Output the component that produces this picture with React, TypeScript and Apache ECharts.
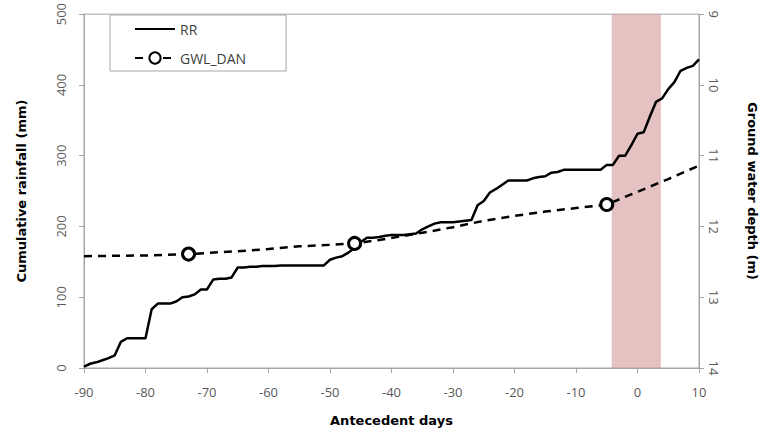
import React, { useEffect, useRef } from "react";
import * as echarts from "echarts";

const rrDays = [
  -90, -89, -88, -87, -86, -85, -84, -83, -82, -81, -80, -79, -78, -77, -76, -75, -74, -73, -72, -71,
  -70, -69, -68, -67, -66, -65, -64, -63, -62, -61, -60, -59, -58, -57, -56, -55, -54, -53, -52, -51,
  -50, -49, -48, -47, -46, -45, -44, -43, -42, -41, -40, -39, -38, -37, -36, -35, -34, -33, -32, -31,
  -30, -29, -28, -27, -26, -25, -24, -23, -22, -21, -20, -19, -18, -17, -16, -15, -14, -13, -12, -11,
  -10, -9, -8, -7, -6, -5, -4, -3, -2, -1, 0, 1, 2, 3, 4, 5, 6, 7, 8, 9, 10,
];
const rrValues = [
  2, 6, 8, 11, 14, 18, 37, 42, 42, 42, 42, 83, 91, 91, 91, 94, 100, 101, 104, 111,
  111, 125, 126, 126, 128, 142, 142, 143, 143, 144, 144, 144, 145, 145, 145, 145, 145, 145, 145, 145,
  153, 156, 158, 163, 170, 178, 184, 184, 185, 187, 188, 188, 188, 189, 190, 196, 200, 204, 206, 206,
  206, 207, 208, 209, 230, 236, 248, 253, 259, 265, 265, 265, 265, 268, 270, 271, 276, 277, 280, 280,
  280, 280, 280, 280, 280, 287, 287, 300, 300, 315, 331, 333, 355, 376, 381, 394, 404, 420, 424, 427, 436,
];

const gwlDays = [-90, -80, -73, -65, -60, -55, -50, -46, -42, -35, -30, -25, -20, -15, -10, -5, 0, 5, 10];
const gwlValues = [12.42, 12.41, 12.39, 12.35, 12.32, 12.28, 12.26, 12.24, 12.19, 12.09, 12.01, 11.92, 11.85, 11.79, 11.74, 11.69, 11.51, 11.33, 11.14];
const gwlObservedDays = [-73, -46, -5];

const bandRange = [-4.2, 3.8];

const xTicks = { min: -90, max: 10, interval: 10 };
const leftTicks = { min: 0, max: 500, interval: 100 };
const rightTicks = { min: 9, max: 14, interval: 1 };

const FONT = "'Open Sans', 'DejaVu Sans', sans-serif";
const TITLE_FONT = "'DejaVu Sans', sans-serif";
const AXIS_GRAY = "#a6a6a6";
const LABEL_GRAY = "#595959";

export default function App() {
  const ref = useRef<HTMLDivElement>(null);
  useEffect(() => {
    if (!ref.current) return;
    document.body.style.margin = "0";
    const chart = echarts.init(ref.current, null, { renderer: "svg" });
    const rrData = rrDays.map((d, i) => [d, rrValues[i]]);
    const gwlData = gwlDays.map((d, i) => {
      const obs = gwlObservedDays.indexOf(d) >= 0;
      return obs ? { value: [d, gwlValues[i]] } : { value: [d, gwlValues[i]], symbol: "none" };
    });
    const nameStyle = { fontFamily: TITLE_FONT, fontWeight: "bold", fontSize: 13, color: "#000" };
    chart.setOption({
      animation: false,
      textStyle: { fontFamily: FONT },
      grid: { left: 84, right: 60, top: 10, bottom: 71, show: true, borderColor: AXIS_GRAY, borderWidth: 1 },
      legend: {
        data: [{ name: "RR", itemStyle: { opacity: 0 } }, { name: "GWL_DAN" }],
        orient: "vertical",
        left: 110,
        top: 15,
        padding: [7, 40, 6, 24],
        itemGap: 15,
        itemWidth: 40,
        itemHeight: 14,
        borderColor: AXIS_GRAY,
        borderWidth: 1,
        backgroundColor: "#fff",
        textStyle: { fontFamily: FONT, fontSize: 14, color: "#404040" },
      },
      xAxis: {
        type: "value",
        min: xTicks.min,
        max: xTicks.max,
        interval: xTicks.interval,
        name: "Antecedent days",
        nameLocation: "middle",
        nameGap: 46,
        nameTextStyle: nameStyle,
        axisLine: { show: true, onZero: false, lineStyle: { color: AXIS_GRAY } },
        axisTick: { show: true, length: 5, lineStyle: { color: AXIS_GRAY } },
        axisLabel: { margin: 17, fontSize: 13, color: LABEL_GRAY, fontFamily: FONT },
        splitLine: { show: false },
      },
      yAxis: [
        {
          type: "value",
          min: leftTicks.min,
          max: leftTicks.max,
          interval: leftTicks.interval,
          name: "Cumulative rainfall (mm)",
          nameLocation: "middle",
          nameGap: 56,
          nameRotate: 90,
          nameTextStyle: nameStyle,
          axisLine: { show: true, onZero: false, lineStyle: { color: AXIS_GRAY } },
          axisTick: { show: true, length: 5, lineStyle: { color: AXIS_GRAY } },
          axisLabel: { rotate: 90, margin: 17, fontSize: 13, color: LABEL_GRAY, fontFamily: FONT },
          splitLine: { show: false },
        },
        {
          type: "value",
          position: "right",
          inverse: true,
          min: rightTicks.min,
          max: rightTicks.max,
          interval: rightTicks.interval,
          name: "Ground water depth (m)",
          nameLocation: "middle",
          nameGap: 47,
          nameRotate: -90,
          nameTextStyle: nameStyle,
          axisLine: { show: true, onZero: false, lineStyle: { color: AXIS_GRAY } },
          axisTick: { show: true, length: 5, lineStyle: { color: AXIS_GRAY } },
          axisLabel: { rotate: -90, margin: 8, fontSize: 13, color: LABEL_GRAY, fontFamily: FONT },
          splitLine: { show: false },
        },
      ],
      series: [
        {
          name: "RR",
          type: "line",
          data: rrData,
          yAxisIndex: 0,
          symbol: "none",
          lineStyle: { color: "#000", width: 2.5 },
          itemStyle: { color: "#000" },
          z: 2,
        },
        {
          name: "GWL_DAN",
          type: "line",
          data: gwlData,
          yAxisIndex: 1,
          symbol: "circle",
          symbolSize: 12,
          showAllSymbol: true,
          lineStyle: { color: "#000", width: 2.5, type: [8, 6] },
          itemStyle: { color: "#fff", borderColor: "#000", borderWidth: 3 },
          z: 3,
        },
        {
          name: "band",
          type: "line",
          data: [],
          yAxisIndex: 0,
          z: 10,
          markArea: {
            silent: true,
            itemStyle: { color: "rgba(210,146,146,0.57)" },
            data: [[{ xAxis: bandRange[0] }, { xAxis: bandRange[1] }]],
          },
        },
      ],
    });
    return () => chart.dispose();
  }, []);
  return <div ref={ref} style={{ width: 767, height: 439 }} />;
}
